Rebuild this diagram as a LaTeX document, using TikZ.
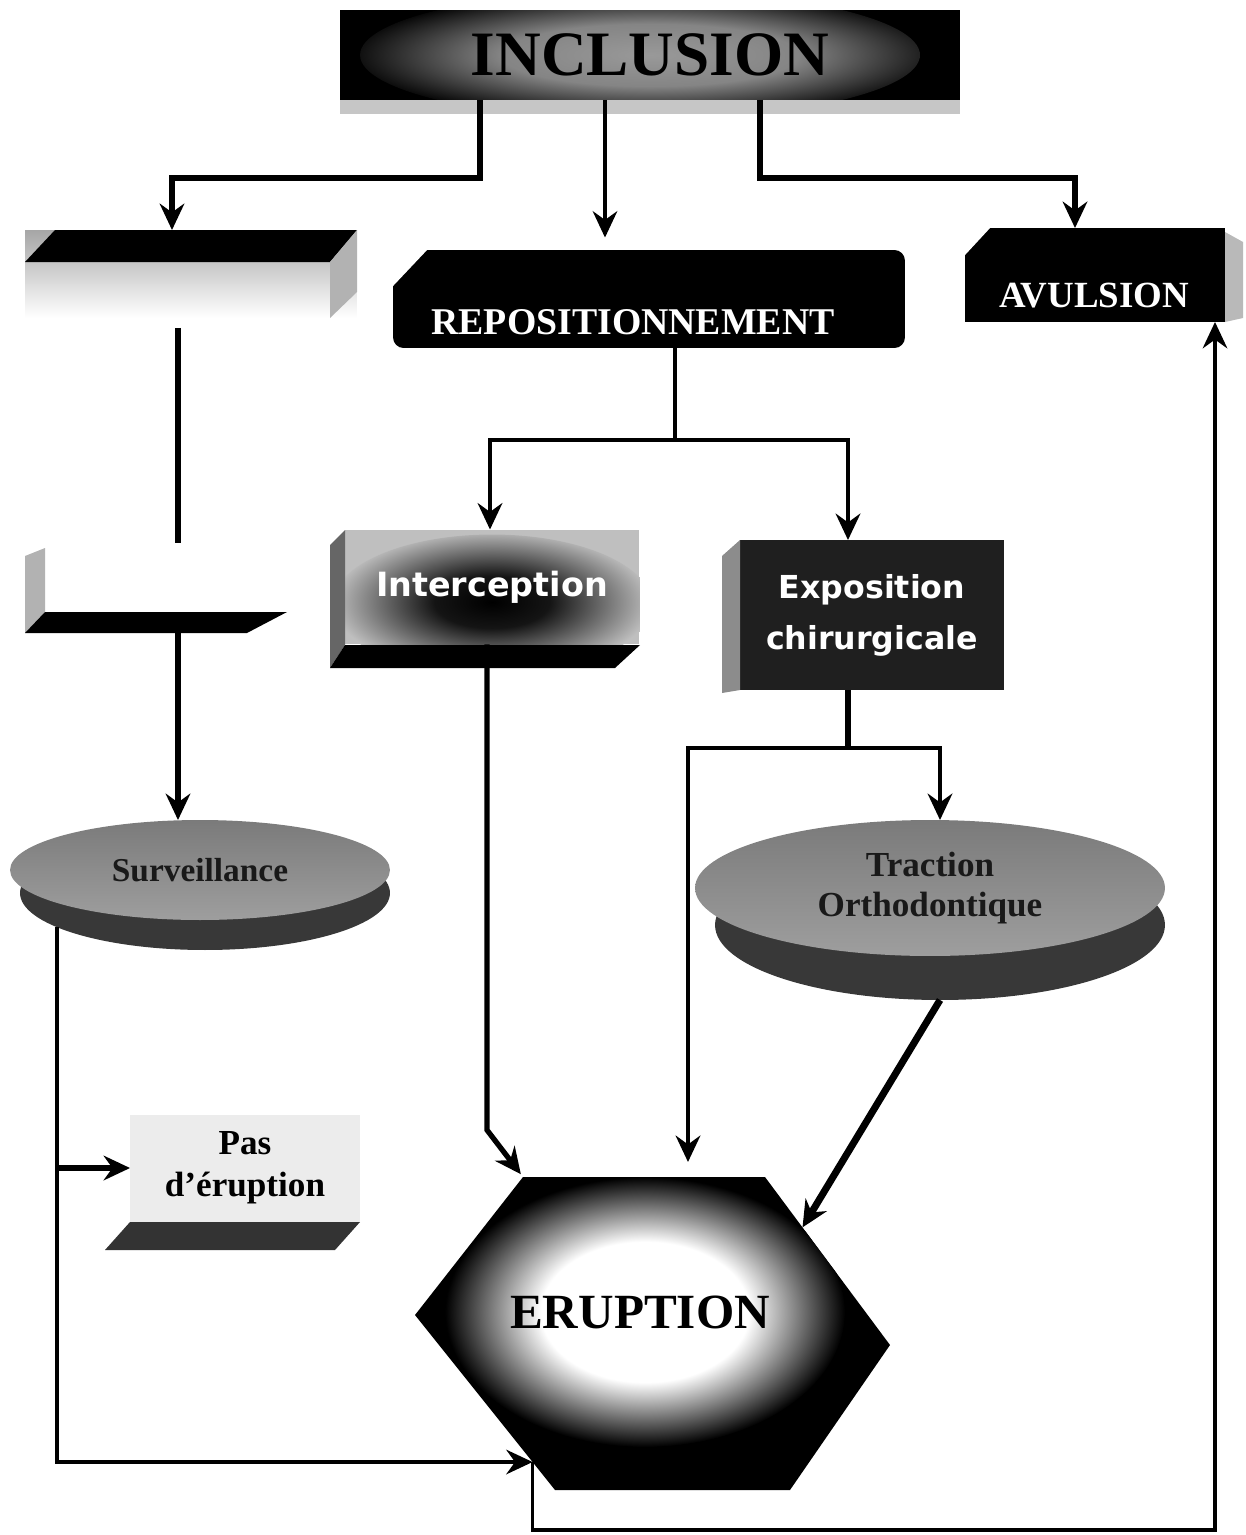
\documentclass[tikz,border=0pt]{standalone}
\usepackage{fontspec}
\setmainfont{Liberation Serif}
\newfontfamily\roundfont{DejaVu Sans}
\usetikzlibrary{positioning,shapes.geometric,arrows.meta,calc}

\pgfdeclareradialshading{titleglow}{\pgfpointorigin}{color(0bp)=(black!40); color(12bp)=(black!48); color(25bp)=(black); color(50bp)=(black)}
\pgfdeclareradialshading{whiteglow}{\pgfpointorigin}{color(0bp)=(white); color(13bp)=(white); color(25bp)=(black); color(50bp)=(black)}
\pgfdeclareradialshading{darkglow}{\pgfpointorigin}{color(0bp)=(black); color(9bp)=(black!92); color(25bp)=(black!25); color(50bp)=(black!25)}

\begin{document}
\begin{tikzpicture}[x=0.02cm, y=-0.02cm,
    flow/.style={line width=3.5pt, -{Stealth[length=15pt,width=14pt,inset=5pt]}},
    thinflow/.style={flow, line width=2pt},
    slab/.style={inner sep=0pt, outer sep=0pt},
    disc/.style={ellipse, inner sep=0pt, outer sep=0pt},
    darkslab/.style={slab, fill=black}]
\useasboundingbox (0,0) rectangle (1246,1535);

% top
\node[slab, fill=black, minimum width=12.4cm, minimum height=1.8cm,
      path picture={\shade[shading=titleglow] ([xshift=-0.2cm]path picture bounding box.center) ellipse [x radius=5.6cm, y radius=1.3cm];},
      font=\bfseries\fontsize{36}{40}\selectfont] (incl) at (650,55) {INCLUSION};
\fill[gray!45] (incl.south west) rectangle ++(620,14);

% left column
\node[slab, minimum width=6.64cm, minimum height=1.76cm, top color=gray!70, bottom color=white] (idle1) at (191,274) {};
\fill[black] (25,262) -- (55,230) -- (357,230) -- (330,262) -- cycle;
\fill[gray!60] (330,262) -- (357,230) -- (357,292) -- (330,318) -- cycle;

\node[slab, minimum width=4.84cm, minimum height=1.28cm, fill=white] (idle2) at (166,580) {};
\fill[gray!60] (25,556) -- (45,548) -- (45,612) -- (25,633) -- cycle;
\fill[black] (25,633) -- (45,612) -- (287,612) -- (247,633) -- cycle;

\node[disc, minimum width=7.4cm, minimum height=2.28cm, fill=black!78] (survbase) at (205,893) {};
\node[disc, minimum width=7.6cm, minimum height=2cm, top color=black!52, bottom color=black!38,
      text=black!90, font=\bfseries\fontsize{19}{22}\selectfont] (surv) at (200,870) {Surveillance};

\node[slab, fill=gray!15, minimum width=4.6cm, minimum height=2.14cm, align=center,
      font=\bfseries\fontsize{20}{24}\selectfont] (nopass) at (245,1168) {Pas\\d’éruption};
\fill[black!80] (105,1250) -- (130,1222) -- (360,1222) -- (335,1250) -- cycle;

% middle
\node[darkslab, rounded corners=6pt, minimum width=10.24cm, minimum height=1.96cm] (repo) at (649,299) {};
\fill[white] (repo.north west) -- ++(34,0) -- ++(-34,36) -- cycle;
\node[text=white, font=\bfseries\fontsize{21.5}{24}\selectfont] (repo-txt) at (633,322) {REPOSITIONNEMENT};

\node[slab, minimum width=5.9cm, minimum height=2.3cm, fill=black!25,
      path picture={\shade[shading=darkglow] ([yshift=-0.35cm]path picture bounding box.center) ellipse [x radius=3.2cm, y radius=1.4cm];},
      text=white, font=\roundfont\bfseries\fontsize{19}{22}\selectfont] (icpt) at (492,587) {Interception};
\fill[black!60] (330,545) -- (345,530) -- (345,645) -- (330,668) -- cycle;
\fill[black] (330,668) -- (345,645) -- (640,645) -- (615,668) -- cycle;

% right
\node[darkslab, minimum width=5.2cm, minimum height=1.88cm] (avul) at (1095,275) {};
\fill[white] (avul.north west) -- ++(25,0) -- ++(-25,27) -- cycle;
\fill[gray!55] (1225,232) -- (1243,242) -- (1243,318) -- (1225,322) -- cycle;
\node[text=white, font=\bfseries\fontsize{21}{24}\selectfont] (avul-txt) at (1094,296) {AVULSION};

\node[slab, minimum width=5.3cm, minimum height=3cm, fill=black!88, align=center, text=white,
      font=\roundfont\bfseries\fontsize{18}{29}\selectfont] (expo) at (872,615) {Exposition\\chirurgicale};
\fill[black!45] (722,556) -- (740,540) -- (740,690) -- (722,693) -- cycle;

\node[disc, minimum width=9cm, minimum height=3cm, fill=black!78] (tracbase) at (940,925) {};
\node[disc, minimum width=9.4cm, minimum height=2.72cm, top color=black!52, bottom color=black!38,
      align=center, text=black!90, font=\bfseries\fontsize{20}{23}\selectfont] (trac) at (930,888) {Traction\\Orthodontique};

% eruption
\fill[black] (523,1177) coordinate (e-nw) -- (765,1177) coordinate (e-ne) -- (890,1345) coordinate (e-e)
  -- (790,1490) coordinate (e-se) -- (555,1490) coordinate (e-sw) -- (415,1315) coordinate (e-w) -- cycle;
\begin{scope}
  \clip (e-nw) -- (e-ne) -- (e-e) -- (e-se) -- (e-sw) -- (e-w) -- cycle;
  \shade[shading=whiteglow] (645,1312) ellipse [x radius=4cm, y radius=2.7cm];
\end{scope}
\node[font=\bfseries\fontsize{28}{32}\selectfont] (erupt) at (640,1312) {ERUPTION};
\coordinate (e-in) at ($(e-w)!0.84!(e-sw)$);

% arrows
\draw[flow] (480,0 |- incl.south) |- (172,178) -- (172,0 |- idle1.north);
\draw[thinflow, shorten >=0.25cm] (605,0 |- incl.south) -- (605,0 |- repo.north);
\draw[flow] (760,0 |- incl.south) |- (1075,178) -- (1075,0 |- avul.north);

\draw[flow, -, shorten <=0.2cm, shorten >=0.1cm] (178,0 |- idle1.south) -- (178,0 |- idle2.north);
\draw[flow] (178,0 |- idle2.south) -- (178,0 |- surv.north);
\draw[thinflow] (survbase.193) |- (e-in);
\draw[flow] (survbase.193 |- nopass.west) -- (nopass.west);

\draw[flow, -, line width=2.5pt] (675,0 |- repo.south) -- (675,440) coordinate (repo-fork);
\draw[flow, line width=2.5pt] (repo-fork) -| (490,0 |- icpt.north);
\draw[flow, line width=2.5pt] (repo-fork) -| (848,0 |- expo.north);

\draw[flow, line width=3pt, shorten >=2pt] (487,0 |- icpt.south) -- (487,1130) -- (e-nw);
\draw[flow, -] (848,0 |- expo.south) -- ++(0,58) coordinate (expo-fork);
\draw[flow, line width=2.5pt] (expo-fork) -| (940,0 |- trac.north);
\draw[flow, line width=2.5pt, shorten >=0.3cm] (expo-fork) -| (e-nw -| 688,0);
\draw[flow, line width=4pt] (tracbase.south) -- ($(e-ne)!0.3!(e-e)$);

\draw[thinflow] (e-in) -- (e-in |- 0,1530) -| (1215,0 |- avul.south);
\end{tikzpicture}
\end{document}
